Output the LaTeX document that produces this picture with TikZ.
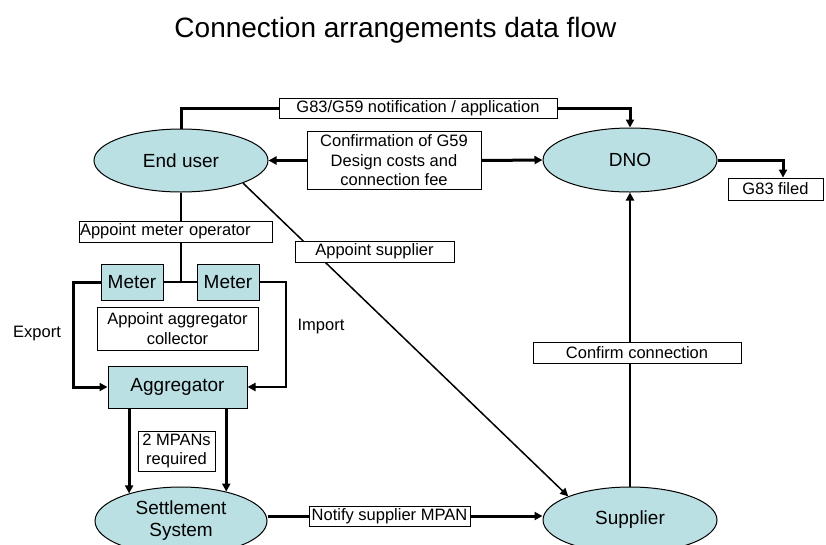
\documentclass[tikz,border=0pt]{standalone}
\usepackage{fontspec}
\setmainfont{Liberation Sans}
\usetikzlibrary{arrows.meta,shapes.geometric}
\pgfdeclarelayer{bg}
\pgfdeclarelayer{paper}
\pgfsetlayers{paper,bg,main}
\definecolor{nodefill}{HTML}{BBE0E3}
\tikzset{
  ent/.style={ellipse, draw, line width=1pt, fill=nodefill, inner sep=0pt,
    font=\fontsize{19}{22}\selectfont, align=center},
  unit/.style={rectangle, draw, line width=1pt, fill=nodefill, inner sep=0pt,
    font=\fontsize{19}{22}\selectfont},
  lbl/.style={rectangle, draw, line width=0.8pt, fill=white, inner sep=0pt,
    font=\fontsize{16.5}{19.5}\selectfont, align=center},
  plain/.style={font=\fontsize{16.5}{19.5}\selectfont},
  heavy/.style={line width=3pt},
  medium/.style={line width=2pt},
  light/.style={line width=1.5pt},
  tip/.style={-{Triangle[length=8pt,width=8pt]}},
}
\begin{document}
\begin{tikzpicture}[x=1pt,y=-1pt]
\useasboundingbox (0,0) rectangle (826,544);
\begin{pgfonlayer}{paper}
\fill[white] (0,0) rectangle (826,544);
\end{pgfonlayer}

% title
\node[font=\fontsize{28}{33}\selectfont, anchor=base] (title) at (395.5,37)
  {Connection arrangements data flow};

% parties
\node[ent, minimum width=174pt, minimum height=63pt] (eu) at (181,160.5) {End user};
\node[ent, minimum width=174pt, minimum height=64pt] (dno) at (630,160) {DNO};
\node[ent, minimum width=172pt, minimum height=68pt] (settle) at (181,521) {Settlement\\System};
\node[ent, minimum width=174pt, minimum height=66pt] (sup) at (630,520) {Supplier};

% metering units
\node[unit, minimum width=62pt, minimum height=36pt] (m1) at (132,282) {Meter};
\node[unit, minimum width=62pt, minimum height=36pt] (m2) at (228,282) {Meter};
\node[unit, minimum width=139pt, minimum height=42pt] (agg) at (177.5,387) {Aggregator};

% flow labels
\node[lbl, minimum width=278pt, minimum height=20pt] (g83) at (418,108)
  {G83/G59 notification / application};
\node[lbl, minimum width=174pt, minimum height=58pt] (conf) at (394,160.5)
  {Confirmation of G59\\Design costs and\\connection fee};
\node[lbl, minimum width=95pt, minimum height=22pt] (filed) at (775.5,189) {G83 filed};
\node[lbl, minimum width=193pt, minimum height=21pt, text width=191pt, align=left]
  (apmo) at (175.5,231.5) {Appoint meter operator};
\node[lbl, minimum width=161pt, minimum height=43pt] (apagg) at (177.5,328.5)
  {Appoint aggregator\\collector};
\node[lbl, minimum width=77pt, minimum height=40pt] (mpan) at (176.5,451)
  {2 MPANs\\required};
\node[lbl, minimum width=159pt, minimum height=21pt] (apsup) at (374.5,251.5)
  {Appoint supplier};
\node[lbl, minimum width=161pt, minimum height=20pt] (notify) at (389.5,516)
  {Notify supplier MPAN};
\node[lbl, minimum width=208pt, minimum height=21pt] (confirm) at (637,352.5)
  {Confirm connection};
\node[plain] (export) at (37,334) {Export};
\node[plain] (import) at (321,327) {Import};

% connectors, kept behind the labels
\begin{pgfonlayer}{bg}
\draw[heavy, tip] (eu.north) |- (g83.west) -- (g83.east) -| (dno.north);
\draw[heavy, tip] (conf.west) -- (eu.east);
\draw[heavy, tip] (conf.east) -- (dno.west);
\draw[heavy, tip] (dno.east) -| ([xshift=7.5pt]filed.north);
\draw[medium] (eu.south) -- (eu.south |- m1.center);
\draw[light] (m1.east) -- (m2.west);
\draw[heavy, tip] (m1.west) -- ++(-27,0) |- (agg.west);
\draw[medium, tip] (m2.east) -- ++(26,0) |- (agg.east);
\draw[heavy, tip] (settle.152.5 |- agg.south) -- (settle.152.5);
\draw[heavy, tip] (settle.33 |- agg.south) -- (settle.33);
\draw[heavy] (settle.east |- notify.west) -- (notify.west);
\draw[heavy, tip] (notify.east) -- (sup.west |- notify.east);
\draw[medium, tip] (sup.north) -- (dno.south);
\draw[light, tip] (eu.-20) -- (sup.159);
\end{pgfonlayer}
\end{tikzpicture}
\end{document}
